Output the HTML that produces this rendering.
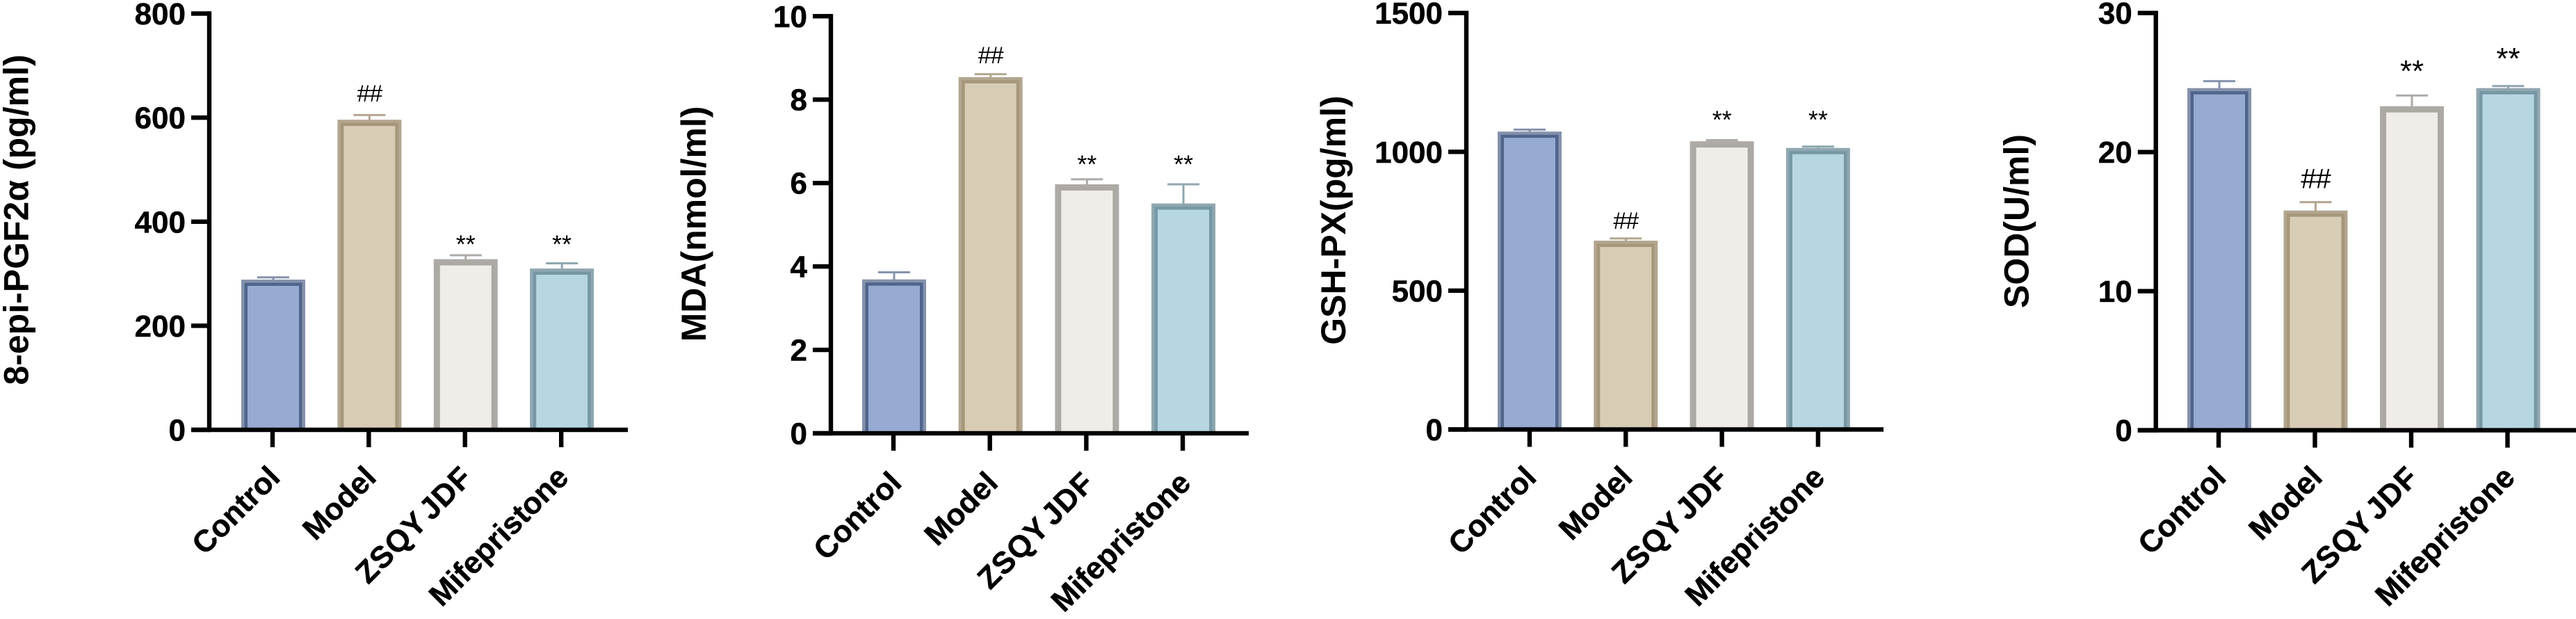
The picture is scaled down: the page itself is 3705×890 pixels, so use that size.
<!DOCTYPE html>
<html lang="en">
<head>
<meta charset="utf-8">
<title>Oxidative stress markers</title>
<style>
html,body{margin:0;padding:0;background:#fff;width:3705px;height:890px;overflow:hidden}
svg{display:block}
text{font-family:"Liberation Sans",Arial,sans-serif}
</style>
</head>
<body>
<svg id="figure" xmlns="http://www.w3.org/2000/svg" width="3705" height="890" viewBox="0 0 3705 890"></svg>
<script>
const categories = ['Control', 'Model', 'ZSQY JDF', 'Mifepristone'];
const significance = ['', '##', '**', '**'];
const significancePanelSod = ['', '##', '**', '**'];

const isoprostaneTitle = '8-epi-PGF2α (pg/ml)';
const isoprostaneTicks = [0, 200, 400, 600, 800];
const isoprostaneValues = [288.7, 596, 328, 310];
const isoprostaneErrorTops = [293, 605, 335.5, 320];
const isoprostaneMarkLevels = [0, 631, 355.6, 355.6];

const mdaTitle = 'MDA(nmol/ml)';
const mdaTicks = [0, 2, 4, 6, 8, 10];
const mdaValues = [3.69, 8.54, 5.97, 5.51];
const mdaErrorTops = [3.86, 8.61, 6.09, 5.97];
const mdaMarkLevels = [0, 8.87, 6.44, 6.44];

const gshTitle = 'GSH-PX(pg/ml)';
const gshTicks = [0, 500, 1000, 1500];
const gshValues = [1073, 680, 1038, 1014];
const gshErrorTops = [1080, 688, 1042, 1019];
const gshMarkLevels = [0, 723, 1113, 1113];

const sodTitle = 'SOD(U/ml)';
const sodTicks = [0, 10, 20, 30];
const sodValues = [24.6, 15.8, 23.3, 24.6];
const sodErrorTops = [25.1, 16.4, 24.07, 24.75];
const sodMarkLevels = [0, 17.4, 25.8, 26.7];

const barPalette = [
  {outer: '#8592ad', inner: '#50658b', fill: '#97aad1'},
  {outer: '#b3a690', inner: '#a6977b', fill: '#d9ccb5'},
  {outer: '#aeaaa6', inner: '#aca8a3', fill: '#f0ede8'},
  {outer: '#8fa7b0', inner: '#7698a5', fill: '#b6d6e2'}
];

const svgNS = 'http://www.w3.org/2000/svg';
const figure = document.getElementById('figure');

function make(parent, tag, attrs, content) {
  const node = document.createElementNS(svgNS, tag);
  for (const key in attrs) node.setAttribute(key, attrs[key]);
  if (content !== undefined) node.textContent = content;
  parent.appendChild(node);
  return node;
}

function slug(text) {
  return text.toLowerCase().replace(/[^a-z0-9]+/g, '-');
}

function drawPanel(panel, title, ticks, values, errorTops, markLevels, marks, frame) {
  const group = make(figure, 'g', {});
  
  

  const domainMax = ticks[ticks.length - 1];
  const yScale = function (v) { return frame.y0 + (frame.yTop - frame.y0) * v / domainMax; };
  const xScale = function (i) { return frame.xFirst + frame.xStep * i; };

  const barW = 92, band = 4.5, capW = 46, errW = 3, lineW = 6.4;

  categories.forEach(function (cat, i) {
    const cx = xScale(i) + frame.barShift;
    const top = yScale(values[i]);
    const colors = barPalette[i];
    const stemColor = colors.outer;

    const errGroup = make(group, 'g', {});
    
    
    make(errGroup, 'rect', {x: cx - errW / 2, y: yScale(errorTops[i]), width: errW, height: Math.max(0, top - yScale(errorTops[i])) + 2, fill: stemColor});
    make(errGroup, 'rect', {x: cx - capW / 2, y: yScale(errorTops[i]) - errW / 2, width: capW, height: errW, fill: stemColor});

    const bar = make(group, 'g', {});
    
    
    make(bar, 'rect', {x: cx - barW / 2, y: top, width: barW, height: frame.y0 - top, fill: colors.outer});
    make(bar, 'rect', {x: cx - barW / 2 + band, y: top + band, width: barW - 2 * band, height: frame.y0 - top - band, fill: colors.inner});
    make(bar, 'rect', {x: cx - barW / 2 + 2 * band, y: top + 2 * band, width: barW - 4 * band, height: frame.y0 - top - 2 * band, fill: colors.fill});

    if (marks[i]) {
      const isHash = marks[i] === '##';
      const size = isHash ? frame.hashSize : frame.starSize;
      const baseline = yScale(markLevels[i]) + (isHash ? 0 : 0.32 * size);
      const mark = make(group, 'text', {x: cx, y: baseline, 'text-anchor': 'middle', 'font-size': size, fill: '#000', 'letter-spacing': isHash ? -1 : 0}, marks[i]);
      
      
    }
  });

  const axes = make(group, 'g', {fill: '#000'});
  
  
  const yAxis = make(axes, 'rect', {x: frame.axisX - lineW / 2, y: yScale(domainMax) - lineW / 2, width: lineW, height: frame.y0 - yScale(domainMax) + lineW});
  
  
  const xAxis = make(axes, 'rect', {x: frame.axisX - 26, y: frame.y0 - lineW / 2, width: frame.axisEnd - frame.axisX + 26, height: lineW});
  
  

  ticks.forEach(function (t) {
    const y = yScale(t);
    make(axes, 'rect', {x: frame.axisX - 26, y: y - lineW / 2, width: 26, height: lineW});
    const label = make(axes, 'text', {x: frame.axisX - 34, y: y + 15.5, 'text-anchor': 'end', 'font-size': 44, 'font-weight': 700, stroke: '#000', 'stroke-width': 0.5}, String(t));
    
    
  });

  categories.forEach(function (cat, i) {
    const x = xScale(i);
    make(axes, 'rect', {x: x - lineW / 2, y: frame.y0, width: lineW, height: 25});
    const ax = x + frame.labelDx, ay = frame.labelY;
    const hasGap = cat.indexOf(' ') >= 0;
    const label = make(axes, 'text', {x: 0, y: 0, transform: 'translate(' + ax + ',' + ay + ') rotate(-45)', 'text-anchor': 'end', 'font-size': 44, 'font-weight': 700, stroke: '#000', 'stroke-width': 0.5, 'word-spacing': hasGap ? -7 : 0, 'letter-spacing': hasGap ? 1 : 0}, cat);
    
    
  });

  const yTitle = make(group, 'text', {x: 0, y: 0, transform: 'translate(' + frame.titleX + ',' + frame.titleY + ') rotate(-90)', 'text-anchor': 'middle', 'font-size': 50, 'font-weight': 700, fill: '#000'}, title);
  
  
}

drawPanel('isoprostane', isoprostaneTitle, isoprostaneTicks, isoprostaneValues, isoprostaneErrorTops, isoprostaneMarkLevels, significance,
  {axisX: 301, axisEnd: 903, y0: 618, yTop: 19.5, xFirst: 392, xStep: 138.4, barShift: 1, labelDx: 13, labelY: 689, titleX: 40.5, titleY: 316, hashSize: 34, starSize: 36});
drawPanel('mda', mdaTitle, mdaTicks, mdaValues, mdaErrorTops, mdaMarkLevels, significance,
  {axisX: 1195, axisEnd: 1796, y0: 623, yTop: 23.3, xFirst: 1285, xStep: 138.7, barShift: 1, labelDx: 14, labelY: 697, titleX: 1015, titleY: 322, hashSize: 34, starSize: 36});
drawPanel('gsh-px', gshTitle, gshTicks, gshValues, gshErrorTops, gshMarkLevels, significance,
  {axisX: 2109, axisEnd: 2709, y0: 617.5, yTop: 18.7, xFirst: 2200, xStep: 138.3, barShift: 0, labelDx: 12, labelY: 689, titleX: 1935, titleY: 316.6, hashSize: 34, starSize: 36});
drawPanel('sod', sodTitle, sodTicks, sodValues, sodErrorTops, sodMarkLevels, significancePanelSod,
  {axisX: 3100.7, axisEnd: 3705, y0: 618.6, yTop: 18.7, xFirst: 3191, xStep: 138.5, barShift: 1, labelDx: 13, labelY: 689, titleX: 2917.5, titleY: 318, hashSize: 40, starSize: 44});
</script>
</body>
</html>
